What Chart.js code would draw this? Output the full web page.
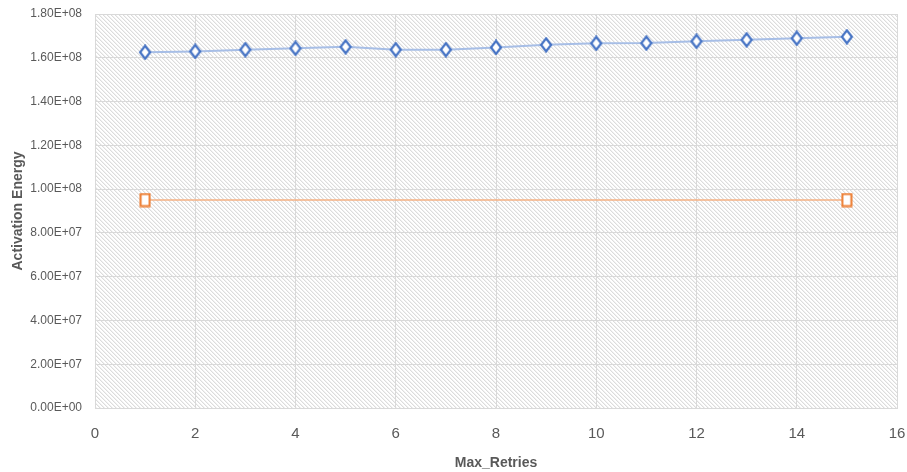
<!DOCTYPE html>
<html>
<head>
<meta charset="utf-8">
<script src="https://cdn.jsdelivr.net/npm/chart.js@4"></script>
<style>
  html, body { margin: 0; padding: 0; background: #ffffff; }
  #wrap { width: 907px; height: 472px; }
</style>
</head>
<body>
<div id="wrap"><canvas id="chart" width="907" height="472"></canvas></div>
<script>
// data
var retries = [1, 2, 3, 4, 5, 6, 7, 8, 9, 10, 11, 12, 13, 14, 15];
var energy = [1.625e8, 1.629e8, 1.637e8, 1.643e8, 1.650e8, 1.637e8, 1.637e8, 1.647e8,
              1.659e8, 1.666e8, 1.667e8, 1.675e8, 1.682e8, 1.689e8, 1.696e8];
var refX = [1, 15];
var refEnergy = [9.5e7, 9.5e7];
var yTicks = [0, 2e7, 4e7, 6e7, 8e7, 1e8, 1.2e8, 1.4e8, 1.6e8, 1.8e8];
var xTicks = [0, 2, 4, 6, 8, 10, 12, 14, 16];

var textColor = '#595959';
var gridColor = '#d9d9d9';
var fontFam = "'Liberation Sans', Arial, sans-serif";

function sci(v) {
  if (v === 0) return '0.00E+00';
  var e = Math.floor(Math.log10(Math.abs(v)) + 1e-9);
  var m = v / Math.pow(10, e);
  return m.toFixed(2) + 'E' + (e < 0 ? '-' : '+') + (Math.abs(e) < 10 ? '0' : '') + Math.abs(e);
}

// marker images
function diamond() {
  var c = document.createElement('canvas');
  c.width = 14; c.height = 16;
  var g = c.getContext('2d');
  g.beginPath();
  g.moveTo(7, 1.5); g.lineTo(12, 8); g.lineTo(7, 14.5); g.lineTo(2, 8);
  g.closePath();
  g.fillStyle = '#ffffff'; g.fill();
  g.lineWidth = 2.2; g.strokeStyle = '#4472c4'; g.stroke();
  return c;
}
function square() {
  var c = document.createElement('canvas');
  c.width = 12; c.height = 15;
  var g = c.getContext('2d');
  g.fillStyle = '#ffffff';
  g.fillRect(1.5, 1.5, 9, 12);
  g.lineWidth = 2; g.strokeStyle = '#ed7d31';
  g.strokeRect(1.5, 1.5, 9, 12);
  return c;
}

// diagonal hatch behind the plot area
var hatch = {
  id: 'hatch',
  beforeDraw: function (chart) {
    var a = chart.chartArea, ctx = chart.ctx;
    var p = document.createElement('canvas');
    p.width = 4; p.height = 4;
    var g = p.getContext('2d');
    g.fillStyle = '#ffffff'; g.fillRect(0, 0, 4, 4);
    for (var i = 0; i < 4; i++) {
      g.fillStyle = '#dcdcdc'; g.fillRect(i, i, 1, 1);
      g.fillStyle = '#f1f1f1'; g.fillRect((i + 1) % 4, i, 1, 1);
    }
    ctx.save();
    ctx.fillStyle = ctx.createPattern(p, 'repeat');
    ctx.fillRect(a.left, a.top, a.right - a.left, a.bottom - a.top);
    ctx.restore();
  }
};

new Chart(document.getElementById('chart'), {
  type: 'scatter',
  data: {
    datasets: [{
      data: retries.map(function (x, i) { return { x: x, y: energy[i] }; }),
      showLine: true,
      borderColor: '#a7bee6',
      borderWidth: 2,
      pointStyle: diamond(),
      pointRadius: 6,
      order: 1
    }, {
      data: refX.map(function (x, i) { return { x: x, y: refEnergy[i] }; }),
      showLine: true,
      borderColor: '#f4b183',
      borderWidth: 1.5,
      pointStyle: square(),
      pointRadius: 6,
      order: 2
    }]
  },
  options: {
    responsive: false,
    animation: false,
    layout: { padding: { top: 14, right: 10, left: 0, bottom: 0 } },
    plugins: { legend: { display: false }, tooltip: { enabled: false } },
    scales: {
      x: {
        type: 'linear',
        min: 0, max: 16,
        afterBuildTicks: function (s) { s.ticks = xTicks.map(function (v) { return { value: v }; }); },
        afterFit: function (s) { s.height = 64; s.paddingLeft = 0; s.paddingRight = 0; },
        grid: { color: gridColor, drawTicks: false },
        border: { color: gridColor },
        ticks: { color: textColor, padding: 17, font: { family: fontFam, size: 15 } },
        title: { display: true, text: 'Max_Retries', color: textColor, padding: { top: 0, bottom: 0 },
                 font: { family: fontFam, size: 14, weight: 'bold' } }
      },
      y: {
        min: 0, max: 1.8e8,
        afterBuildTicks: function (s) { s.ticks = yTicks.map(function (v) { return { value: v }; }); },
        afterFit: function (s) { s.width = 95; s.paddingTop = 0; s.paddingBottom = 0; },
        grid: { color: gridColor, drawTicks: false },
        border: { color: gridColor },
        ticks: { color: textColor, padding: 13, font: { family: fontFam, size: 12 },
                 callback: function (v) { return sci(v); } },
        title: { display: true, text: 'Activation Energy', color: textColor, padding: { top: 10, bottom: 0 },
                 font: { family: fontFam, size: 14, weight: 'bold' } }
      }
    }
  },
  plugins: [hatch]
});
</script>
</body>
</html>
